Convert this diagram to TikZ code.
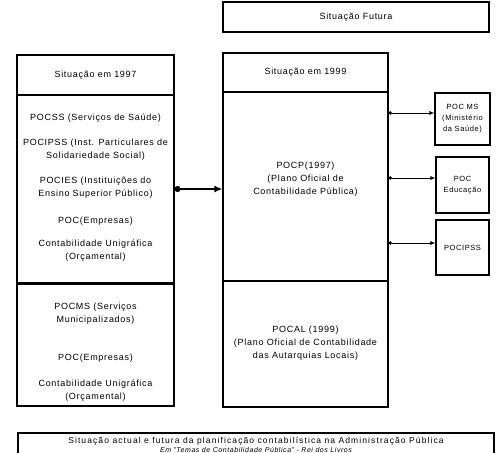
\documentclass[tikz,border=0pt]{standalone}
\usepackage{fontspec}
\setmainfont{Liberation Sans}[LetterSpace=8]
\newfontfamily\capfont{Liberation Sans}[LetterSpace=13]
\usetikzlibrary{arrows.meta,positioning,calc}

\tikzset{
  box/.style={draw, line width=1.1pt, inner sep=0pt, align=center,
    font=\fontsize{9}{13}\selectfont},
  txt/.style={align=center, inner sep=0pt, font=\fontsize{9}{13}\selectfont},
  small/.style={box, font=\fontsize{7.5}{11}\selectfont},
  link/.style={line width=0.8pt, {Circle[length=3.5pt]}-{Latex[length=5pt,width=4pt]}},
}

\begin{document}
\begin{tikzpicture}[x=1pt, y=-1pt]
        \useasboundingbox (0,0) rectangle (496,453);
        % Boxes
        \node [box, minimum width=266pt, minimum height=30pt] (futura) at (356,17) {Situação Futura};
        \node [box, minimum width=157pt, minimum height=40pt] (h97) at (95.5,75) {Situação em 1997};
        \node [box, minimum width=157pt, minimum height=189pt] (p97a) at (95.5,189.5) {};
        \node [box, minimum width=157pt, minimum height=122pt] (p97b) at (95.5,345) {};
        \node [box, minimum width=165pt, minimum height=39pt] (h99) at (305.5,72.5) {Situação em 1999};
        \node [box, minimum width=165pt, minimum height=189pt] (p99a) at (305.5,186.5) {};
        \node [box, minimum width=165pt, minimum height=126pt] (p99b) at (305.5,344) {};
        \node [small, minimum width=55pt, minimum height=52pt] (ms) at (462.5,119) {POC MS\\(Ministério\\da Saúde)};
        \node [small, minimum width=53pt, minimum height=56pt] (edu) at (462.5,185) {POC\\Educação};
        \node [small, minimum width=53pt, minimum height=55pt] (ipss) at (462.5,247.5) {POCIPSS};
        \node [box, minimum width=476pt, minimum height=37pt] (caption) at (256,451.5) {};
        \draw [line width=2pt] (p97b.north west) -- (p97b.north east);
        % Labels
        \node [txt] (t97a) at (95.5,188) {POCSS (Serviços de Saúde)\\[12pt]
            POCIPSS (Inst. Particulares de\\Solidariedade Social)\\[12pt]
            POCIES (Instituições do\\Ensino Superior Público)\\[14pt]
            POC(Empresas)\\[10pt]
            Contabilidade Unigráfica\\(Orçamental)};
        \node [txt] (t97b) at (95.5,352) {POCMS (Serviços\\Municipalizados)\\[25pt]
            POC(Empresas)\\[13pt]
            Contabilidade Unigráfica\\(Orçamental)};
        \node [txt] (t99a) at (305.5,179.5) {POCP(1997)\\(Plano Oficial de\\Contabilidade Pública)};
        \node [txt] (t99b) at (305.5,343) {POCAL (1999)\\(Plano Oficial de Contabilidade\\das Autarquias Locais)};
        \node [txt, font=\fontsize{8.5}{8.5}\selectfont] (tcap) at (256,445)
            {{\capfont Situação actual e futura da planificação contabilística na Administração Pública}\\
             \fontsize{7}{8.5}\selectfont\itshape Em "Temas de Contabilidade Pública" - Rei dos Livros};
        % Arrows
        \coordinate (d1) at (p99a.east |- 0,113);
        \coordinate (d2) at (p99a.east |- 0,178);
        \coordinate (d3) at (p99a.east |- 0,243);
        \coordinate (d0) at (p97a.east |- 0,189);
        \draw [line width=2pt, {Circle[length=6pt]}-{Latex[length=8pt,width=7pt]}] (d0) -- (d0 -| p99a.west);
        \draw [link] (d1) -- (d1 -| ms.west);
        \draw [link] (d2) -- (d2 -| edu.west);
        \draw [link] (d3) -- (d3 -| ipss.west);
\end{tikzpicture}
\end{document}
